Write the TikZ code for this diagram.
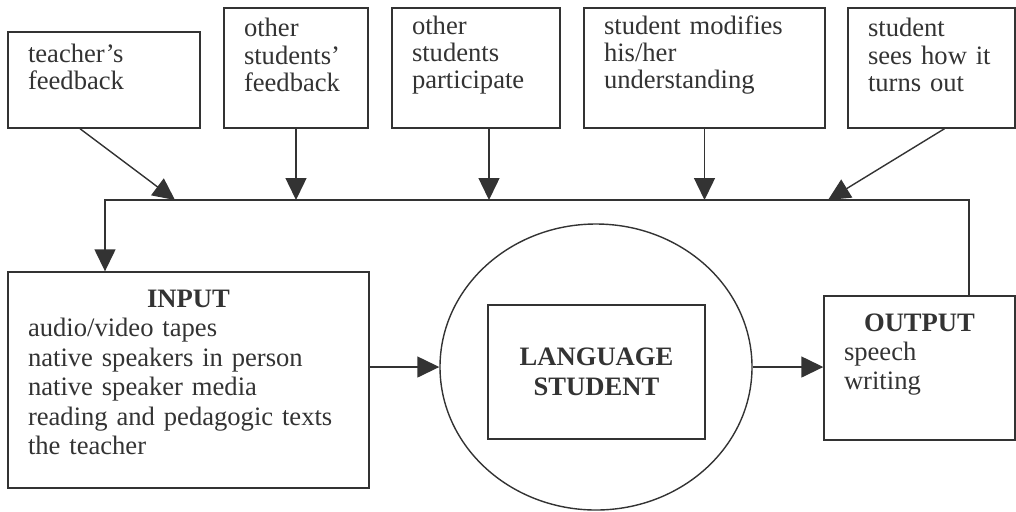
\documentclass[tikz,border=0pt]{standalone}
\usepackage{fontspec}
\setmainfont{Liberation Serif}
\usetikzlibrary{arrows.meta}
\usetikzlibrary{shapes.geometric}
\setlength{\parindent}{0pt}

\begin{document}
\begin{tikzpicture}[x=0.5pt,y=-0.5pt,line width=0.7pt,color=black!80,
  every node/.style={font=\fontsize{13.3}{13.6}\selectfont},
  fbbox/.style={draw,align=left,inner xsep=10pt,inner ysep=0pt,minimum height=60pt,text width=#1},
  lift/.style={execute at end node={\endgraf\vspace{#1}}},
  arrowto/.style={-{Triangle[length=11pt,width=10.5pt]}}]
\useasboundingbox (0,0) rectangle (1016,511);
% feedback boxes along the top
\node[fbbox=76pt,minimum height=48pt,lift=13pt] (teach) at (104,80) {teacher’s\\feedback};
\node[fbbox=52pt,lift=13pt] (otherfb) at (296,68) {other\\students’\\feedback};
\node[fbbox=64pt,lift=13pt] (partic) at (476,68) {other\\students\\participate};
\node[fbbox=100.5pt,lift=13pt] (modif) at (704.5,68) {student modifies\\his/her\\understanding};
\node[fbbox=63.5pt,lift=13pt] (sees) at (931.5,68) {student\\sees how it\\turns out};
% input, learner, output
\node[fbbox=160.5pt,minimum height=108pt,lift=7.5pt,font=\fontsize{13.3}{14.75}\selectfont] (input) at (188.5,380)
  {\centering\textbf{INPUT}\par\raggedright audio/video tapes\\native speakers in person\\native speaker media\\reading and pedagogic texts\\the teacher};
\node[draw,ellipse,minimum width=156pt,minimum height=143pt,inner sep=0pt] (learner) at (596,367) {};
\node[draw,align=center,minimum width=108.5pt,minimum height=67pt,font=\fontsize{13.3}{15}\selectfont\bfseries] (lang) at (596.5,372) {LANGUAGE\\STUDENT};
\node[fbbox=75.5pt,minimum height=72pt,lift=13pt,font=\fontsize{13.3}{14.5}\selectfont] (output) at (919.5,368)
  {\centering\textbf{OUTPUT}\par\raggedright speech\\writing};
% the loop
\coordinate (loopL) at (105,200);
\coordinate (loopR) at (969,200);
\coordinate (hitA) at (175,200);
\coordinate (hitC) at (489,200);
\coordinate (hitE) at (828,200);
\draw[arrowto] ([xshift=-12pt]teach.south) -- (hitA);
\draw[arrowto] (otherfb.south) -- (otherfb.south |- loopL);
\draw[arrowto] (partic.south -| hitC) -- (hitC);
\draw[arrowto] (modif.south) -- (modif.south |- loopL);
\draw[arrowto] ([xshift=6.5pt]sees.south) -- (hitE);
\draw[arrowto] (output.north -| loopR) -- (loopR) -- (loopL) -- (input.north -| loopL);
\draw[arrowto] (input.east |- learner.west) -- (learner.west);
\draw[arrowto] (learner.east) -- (learner.east -| output.west);
\end{tikzpicture}
\end{document}
